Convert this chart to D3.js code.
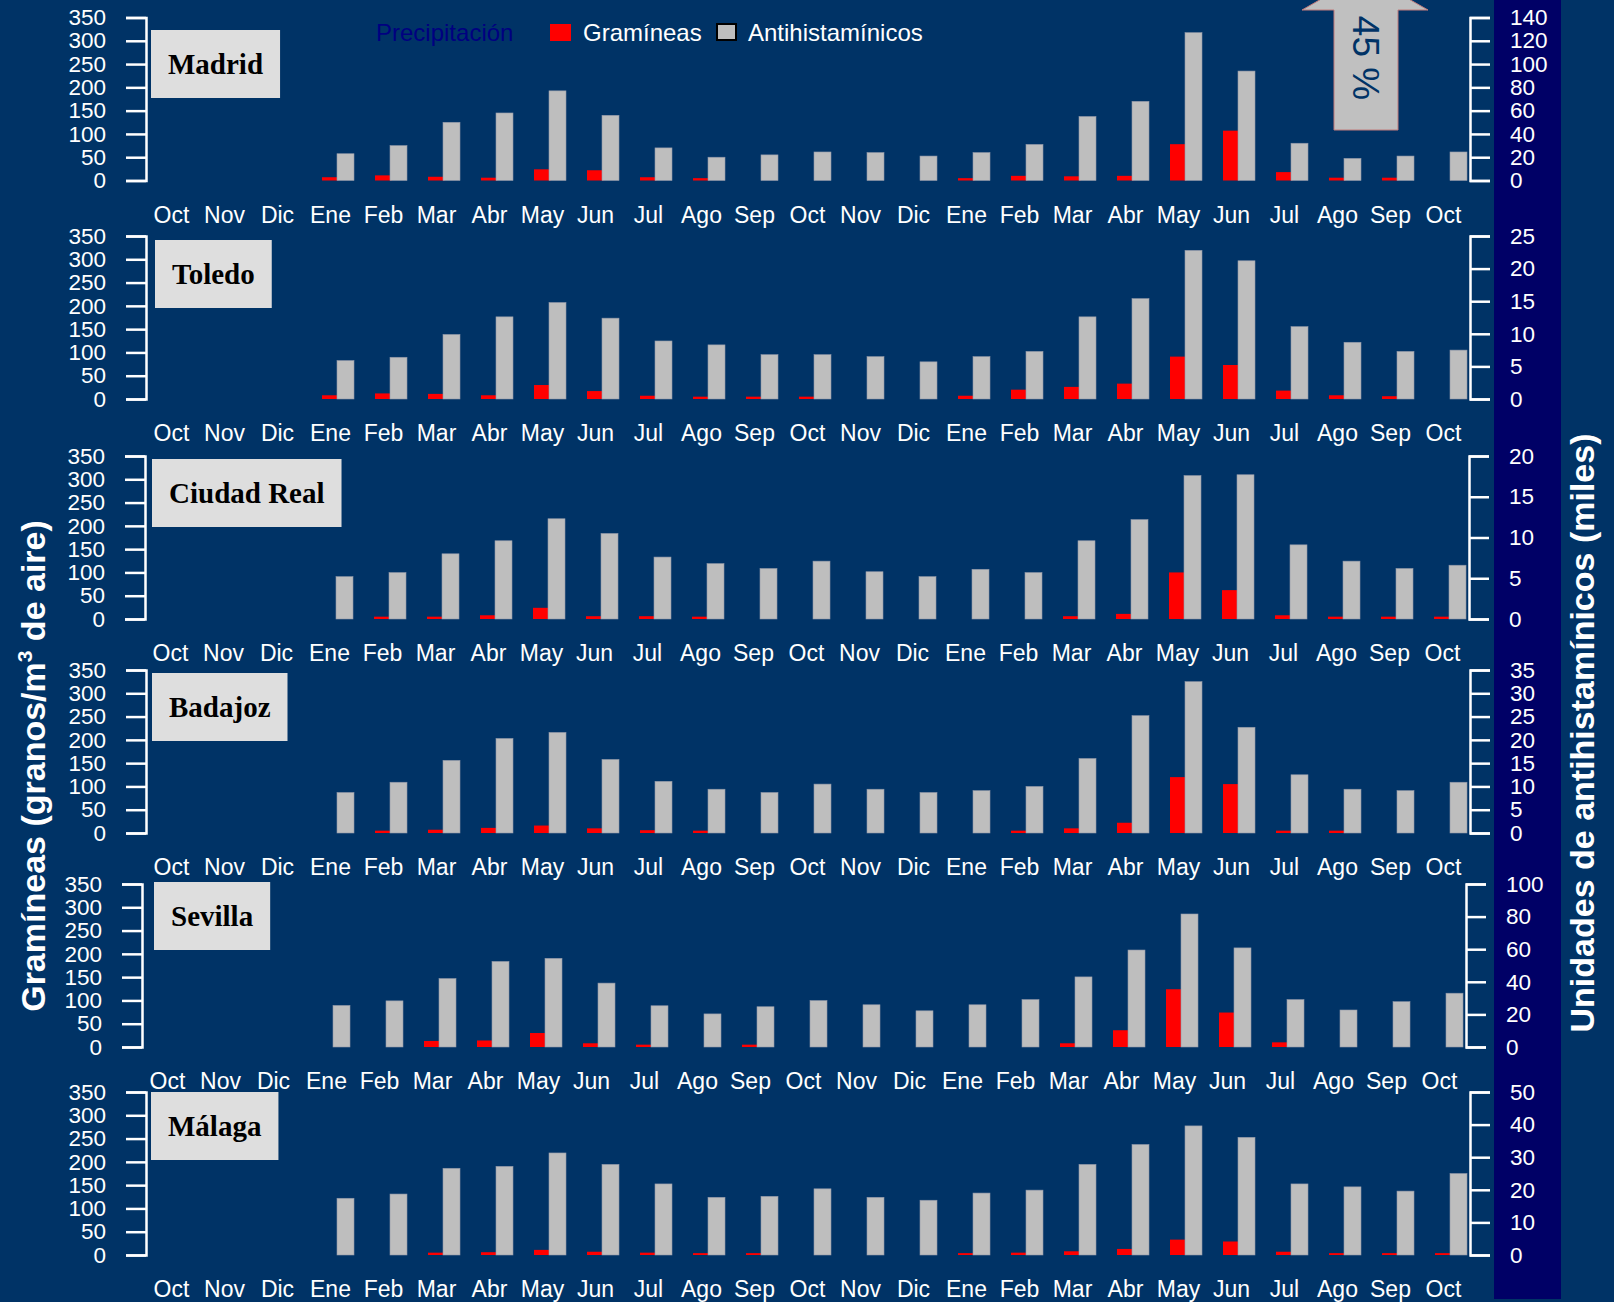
<!DOCTYPE html>
<html>
<head>
<meta charset="utf-8">
<script src="https://cdn.jsdelivr.net/npm/d3@7"></script>
<style>
  body { margin: 0; background: #003366; }
  svg { display: block; }
  .axis path, .axis line { stroke: #fff; stroke-width: 2.5; }
  .axis text { fill: #fff; font-family: "Liberation Sans", Arial, sans-serif; font-size: 22.5px; }
  .month { fill: #fff; font-family: "Liberation Sans", Arial, sans-serif; font-size: 23px; }
</style>
</head>
<body>
<svg id="chart"></svg>
<script>
// months shown on every panel (Oct to Oct, 25 months)
const months = ["Oct","Nov","Dic","Ene","Feb","Mar","Abr","May","Jun","Jul","Ago","Sep",
                "Oct","Nov","Dic","Ene","Feb","Mar","Abr","May","Jun","Jul","Ago","Sep","Oct"];

const cities = ["Madrid", "Toledo", "Ciudad Real", "Badajoz", "Sevilla", "Málaga"];

// gramíneas, granos/m3 (left axis)
const gramMadrid  = [null,null,null, 7, 11, 8, 6, 24, 22, 7, 5, 0, 0, 0, 0, 5, 10, 9, 10, 78, 107, 18, 6, 6, 0];
const gramToledo  = [null,null,null, 8, 12, 11, 8, 30, 17, 7, 5, 5, 5, 0, 0, 7, 20, 26, 33, 91, 73, 18, 8, 6, 0];
const gramCReal   = [null,null,null, 0, 5, 5, 8, 24, 6, 6, 5, 0, 0, 0, 0, 0, 0, 6, 11, 100, 62, 8, 5, 5, 5];
const gramBadajoz = [null,null,null, 0, 5, 7, 11, 16, 10, 6, 5, 0, 0, 0, 0, 0, 5, 10, 22, 120, 105, 5, 5, 0, 0];
const gramSevilla = [null,null,null, 0, 0, 13, 14, 30, 8, 5, 0, 5, 0, 0, 0, 0, 0, 8, 36, 124, 74, 10, 0, 0, 0];
const gramMalaga  = [null,null,null, 0, 0, 5, 6, 11, 7, 5, 4, 4, 0, 0, 0, 4, 5, 8, 13, 33, 29, 7, 4, 4, 4];

// antihistamínicos, miles de unidades (right axis)
const antiMadrid  = [null,null,null, 23, 30, 50, 58, 77, 56, 28, 20, 22, 24.5, 24, 21, 24, 31, 55, 68, 127, 94, 32, 19, 21, 24.5];
const antiToledo  = [null,null,null, 5.9, 6.4, 9.9, 12.6, 14.8, 12.4, 8.9, 8.3, 6.8, 6.8, 6.5, 5.7, 6.5, 7.3, 12.6, 15.4, 22.8, 21.2, 11.1, 8.7, 7.3, 7.5];
const antiCReal   = [null,null,null, 5.2, 5.7, 8.0, 9.6, 12.3, 10.5, 7.6, 6.8, 6.2, 7.1, 5.8, 5.2, 6.1, 5.7, 9.6, 12.2, 17.6, 17.7, 9.1, 7.1, 6.2, 6.6];
const antiBadajoz = [null,null,null, 8.7, 10.9, 15.6, 20.3, 21.6, 15.8, 11.1, 9.4, 8.7, 10.5, 9.4, 8.7, 9.1, 10.0, 16.0, 25.2, 32.5, 22.7, 12.5, 9.4, 9.1, 10.9];
const antiSevilla = [null,null,null, 25.5, 28.3, 42, 52.5, 54.4, 39.2, 25.3, 20.3, 24.7, 28.5, 25.9, 22.2, 25.9, 29.1, 43, 59.5, 81.6, 60.8, 29.1, 22.7, 27.8, 33];
const antiMalaga  = [null,null,null, 17.4, 18.7, 26.6, 27.2, 31.3, 27.8, 21.8, 17.7, 18.0, 20.3, 17.7, 16.8, 19.0, 19.9, 27.8, 33.9, 39.6, 36.1, 21.8, 20.9, 19.6, 25.0];

const gramTicks = [0, 50, 100, 150, 200, 250, 300, 350];
const antiMax = [140, 25, 20, 35, 100, 50];
const antiStep = [20, 5, 5, 5, 20, 10];

const gramSeries = [gramMadrid, gramToledo, gramCReal, gramBadajoz, gramSevilla, gramMalaga];
const antiSeries = [antiMadrid, antiToledo, antiCReal, antiBadajoz, antiSevilla, antiMalaga];

// layout of each panel (pixels)
const panelTop = [17.5, 236, 456, 670, 884, 1092];
const panelDx = [0, 0, -1, 0, -4, 0];
const boxLeft = [151, 155, 152, 152, 154, 151];
const boxTop = [30, 240, 459, 673, 882, 1092];
const panelH = 163;

const W = 1614, H = 1302;
const svg = d3.select('#chart').attr('width', W).attr('height', H);

svg.append('rect').attr('width', W).attr('height', H).attr('fill', '#003366');
svg.append('rect').attr('x', 1494).attr('y', 0).attr('width', 67).attr('height', 1299).attr('fill', '#000066');

cities.forEach((city, p) => {
  const dx = panelDx[p];
  const top = panelTop[p], bottom = top + panelH;

  const x = d3.scaleBand().domain(d3.range(months.length)).range([156 + dx, 1481 + dx]);
  const yL = d3.scaleLinear().domain([0, 350]).range([bottom, top]);
  const yR = d3.scaleLinear().domain([0, antiMax[p]]).range([bottom, top]);

  const g = svg.append('g');

  // gramíneas bars
  g.selectAll('.gram')
    .data(gramSeries[p].map((v, i) => ({i, v})).filter(d => d.v))
    .join('rect')
    .attr('class', 'gram')
    .attr('x', d => x(d.i) + 7)
    .attr('width', 17)
    .attr('y', d => yL(d.v))
    .attr('height', d => yL(0) - yL(d.v))
    .attr('fill', '#ff0000');

  // antihistamínicos bars
  g.selectAll('.anti')
    .data(antiSeries[p].map((v, i) => ({i, v})).filter(d => d.v))
    .join('rect')
    .attr('class', 'anti')
    .attr('x', d => x(d.i) + 22)
    .attr('width', 17)
    .attr('y', d => yR(d.v))
    .attr('height', d => yR(0) - yR(d.v))
    .attr('fill', '#bebebe')
    .attr('stroke', '#8f97a8')
    .attr('stroke-width', 0.6);

  // axes
  g.append('g')
    .attr('class', 'axis')
    .attr('transform', `translate(${146 + dx},0)`)
    .call(d3.axisLeft(yL).tickValues(gramTicks).tickSize(20).tickSizeOuter(20).tickPadding(20));

  g.append('g')
    .attr('class', 'axis')
    .attr('transform', `translate(${1470 + dx},0)`)
    .call(d3.axisRight(yR).tickValues(d3.range(0, antiMax[p] + 0.1, antiStep[p]))
      .tickSize(20).tickSizeOuter(20).tickPadding(20));

  // month labels
  g.selectAll('.month')
    .data(months)
    .join('text')
    .attr('class', 'month')
    .attr('x', (d, i) => x(i) + 15.5)
    .attr('y', bottom + 34)
    .attr('dy', '0.36em')
    .attr('text-anchor', 'middle')
    .text(d => d);

  // city label box
  const box = g.append('rect')
    .attr('x', boxLeft[p]).attr('y', boxTop[p])
    .attr('height', 68)
    .attr('fill', '#dedede');
  const label = g.append('text')
    .attr('y', boxTop[p] + 34)
    .attr('dy', '0.35em')
    .attr('text-anchor', 'middle')
    .style('font-family', '"Liberation Serif", "Times New Roman", serif')
    .style('font-weight', 'bold')
    .style('font-size', '29px')
    .attr('fill', '#000')
    .text(city);
  const tw = label.node().getComputedTextLength();
  box.attr('width', tw + 34);
  label.attr('x', boxLeft[p] + (tw + 34) / 2);
});

// legend
const legend = svg.append('g')
  .style('font-family', '"Liberation Sans", Arial, sans-serif')
  .style('font-size', '24px');
legend.append('text').attr('x', 376).attr('y', 33).attr('dy', '0.35em').attr('fill', '#000080').text('Precipitación');
legend.append('rect').attr('x', 550).attr('y', 24).attr('width', 21).attr('height', 17).attr('fill', '#ff0000');
legend.append('text').attr('x', 583).attr('y', 33).attr('dy', '0.35em').attr('fill', '#fff').text('Gramíneas');
legend.append('rect').attr('x', 717).attr('y', 24).attr('width', 19).attr('height', 16)
  .attr('fill', '#bebebe').attr('stroke', '#000').attr('stroke-width', 2);
legend.append('text').attr('x', 748).attr('y', 33).attr('dy', '0.35em').attr('fill', '#fff').text('Antihistamínicos');

// 45 % arrow
svg.append('path')
  .attr('d', 'M1334,130 L1334,10 L1302,10 L1365,-26 L1428,10 L1398,10 L1398,130 Z')
  .attr('fill', '#c0c0c0')
  .attr('stroke', '#c07a7a')
  .attr('stroke-width', 1);
svg.append('text')
  .attr('transform', 'translate(1366,58) rotate(90)')
  .attr('text-anchor', 'middle')
  .attr('dy', '0.35em')
  .attr('fill', '#003366')
  .style('font-family', '"Liberation Sans", Arial, sans-serif')
  .style('font-size', '37px')
  .text('45 %');

// axis titles
const leftTitle = svg.append('text')
  .attr('transform', 'translate(33,766) rotate(-90)')
  .attr('text-anchor', 'middle')
  .attr('dy', '0.35em')
  .attr('fill', '#fff')
  .style('font-family', '"Liberation Sans", Arial, sans-serif')
  .style('font-weight', 'bold')
  .style('font-size', '34px');
leftTitle.append('tspan').text('Gramíneas (granos/m');
leftTitle.append('tspan').attr('dy', -13).style('font-size', '21px').text('3');
leftTitle.append('tspan').attr('dy', 13).text(' de aire)');

svg.append('text')
  .attr('transform', 'translate(1582,733) rotate(-90)')
  .attr('text-anchor', 'middle')
  .attr('dy', '0.35em')
  .attr('fill', '#fff')
  .style('font-family', '"Liberation Sans", Arial, sans-serif')
  .style('font-weight', 'bold')
  .style('font-size', '34px')
  .text('Unidades de antihistamínicos (miles)');
</script>
</body>
</html>
